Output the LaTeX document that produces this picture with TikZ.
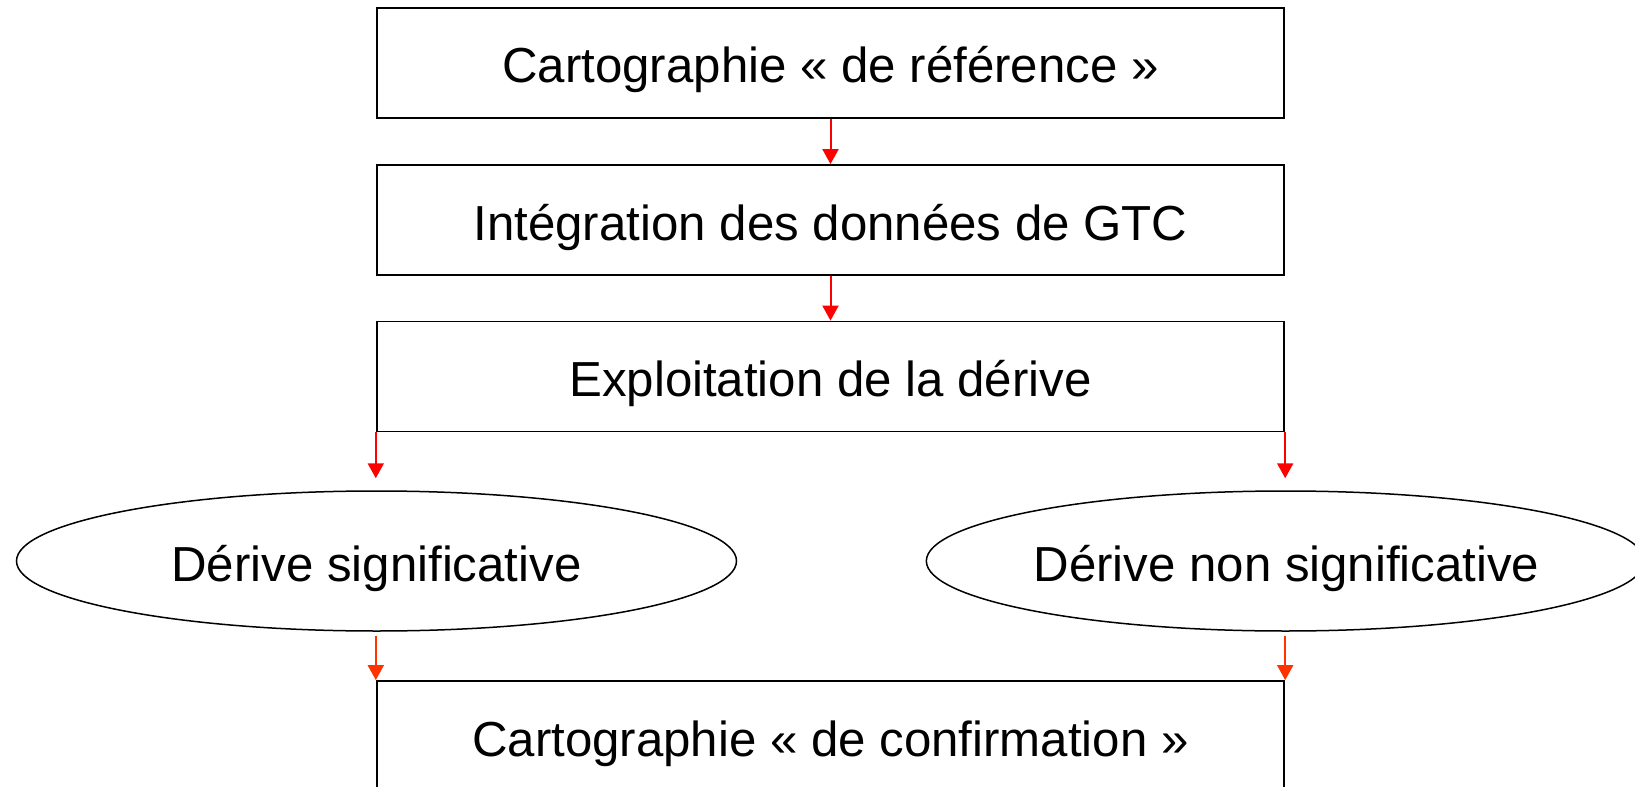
\documentclass[tikz,border=0pt]{standalone}
\usepackage{fontspec}
\setmainfont{Liberation Sans}
\usetikzlibrary{arrows.meta,shapes.geometric}
\definecolor{arrred}{RGB}{255,0,0}
\definecolor{arrorange}{RGB}{255,51,0}
\tikzset{
  box/.style={draw=black, line width=0.9pt, minimum width=453.8pt, minimum height=55pt, inner sep=0pt, text height=22pt, text depth=2pt, font=\fontsize{24.6}{29}\selectfont},
  oval/.style={draw=black, ellipse, line width=0.75pt, minimum height=70pt, inner sep=0pt, text height=22pt, text depth=2pt, font=\fontsize{24.6}{29}\selectfont},
  flow/.style={draw=arrred, line width=1pt, -{Triangle[length=7.5pt,width=8pt]}},
  flowb/.style={draw=arrorange, line width=1pt, -{Triangle[length=7.5pt,width=8pt]}},
}
\begin{document}
\begin{tikzpicture}[x=0.5pt,y=-0.5pt]
\useasboundingbox (0,0) rectangle (1635,787);
\clip (0,0) rectangle (1635,787);
\fill[white] (0,0) rectangle (1635,787);
\node[box] (b1) at (830.5,63) {Cartographie « de référence »};
\node[box] (b2) at (830.5,220) {Intégration des données de GTC};
\node[box] (b3) at (830.5,376.5) {Exploitation de la dérive};
\node[oval, minimum width=360pt] (e1) at (376.5,561) {Dérive significative};
\node[oval, minimum width=349pt] (e2) at (1285.5,561) {\hspace*{1pt}Dérive non significative};
\node[box] (b5) at (830.5,736) {Cartographie « de confirmation »};
\draw[flow] (b1.south) -- (b2.north);
\draw[flow] (b2.south) -- (b3.north);
\draw[flow, shorten >=6pt] (b3.south west) -- (b3.south west |- e1.north);
\draw[flow, shorten >=6pt] (b3.south east) -- (b3.south east |- e2.north);
\draw[flowb, shorten <=2pt] (e1.south -| b5.north west) -- (b5.north west);
\draw[flowb, shorten <=2pt] (e2.south -| b5.north east) -- (b5.north east);
\end{tikzpicture}
\end{document}
